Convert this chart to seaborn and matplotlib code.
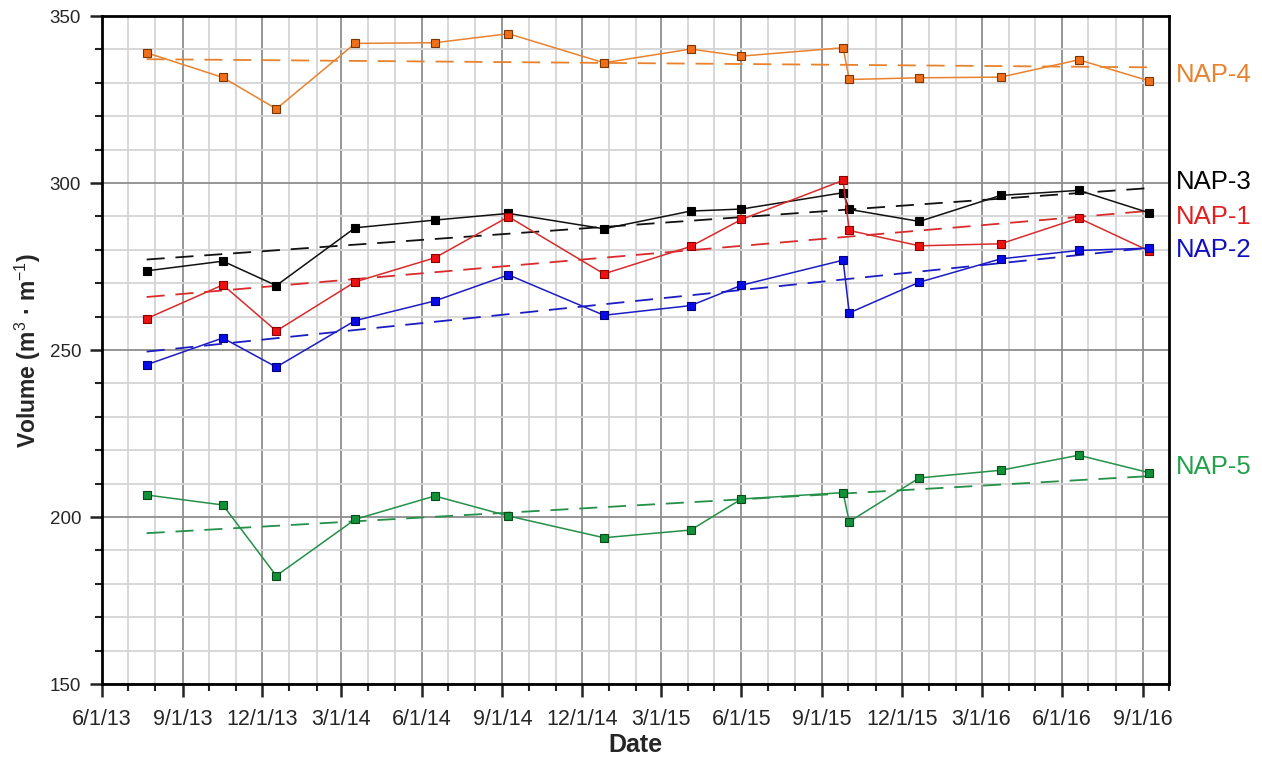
import datetime as dt
import numpy as np
import pandas as pd
import matplotlib
matplotlib.use("Agg")
import matplotlib.pyplot as plt
import matplotlib.dates as mdates
from matplotlib.ticker import MultipleLocator, FuncFormatter
import seaborn as sns

# Survey dates
dates = ["2013-07-22", "2013-10-17", "2013-12-17", "2014-03-17", "2014-06-16",
         "2014-09-08", "2014-12-26", "2015-04-04", "2015-06-01", "2015-09-25",
         "2015-10-02", "2015-12-21", "2016-03-23", "2016-06-20", "2016-09-08"]

# Unit volume per profile (m3/m)
nap1 = [259.4, 269.5, 255.7, 270.4, 277.6, 289.9, 272.8, 281.0, 289.1, 300.8,
        285.8, 281.2, 281.8, 289.5, 279.7]
nap2 = [245.6, 253.6, 244.9, 258.8, 264.7, 272.5, 260.4, 263.3, 269.4, 276.9,
        261.1, 270.3, 277.3, 279.8, 280.5]
nap3 = [273.7, 276.6, 269.3, 286.6, 288.9, 290.9, 286.3, 291.6, 292.2, 297.1,
        292.1, 288.5, 296.3, 297.8, 291.1]
nap4 = [339.0, 331.6, 322.2, 341.8, 342.0, 344.7, 336.0, 340.1, 338.0, 340.5,
        331.0, 331.5, 331.7, 336.9, 330.6]
nap5 = [206.6, 203.6, 182.4, 199.3, 206.3, 200.3, 193.8, 196.1, 205.4, 207.3,
        198.6, 211.7, 214.0, 218.5, 213.3]

sites = ["NAP-4", "NAP-3", "NAP-1", "NAP-2", "NAP-5"]
values = {"NAP-1": nap1, "NAP-2": nap2, "NAP-3": nap3, "NAP-4": nap4, "NAP-5": nap5}

line_colors = {"NAP-4": "#E8822E", "NAP-3": "#111111", "NAP-1": "#D92B2B",
               "NAP-2": "#1C1CC4", "NAP-5": "#249048"}
face_colors = {"NAP-4": "#F0701A", "NAP-3": "#000000", "NAP-1": "#EE1111",
               "NAP-2": "#0A0AE8", "NAP-5": "#12913A"}
edge_colors = {"NAP-4": "#7A3500", "NAP-3": "#000000", "NAP-1": "#8A0000",
               "NAP-2": "#00007A", "NAP-5": "#0A4A1A"}
label_colors = {"NAP-4": "#E8822E", "NAP-3": "#000000", "NAP-1": "#E02020",
                "NAP-2": "#1010C0", "NAP-5": "#22A04A"}
label_y = {"NAP-4": 332.3, "NAP-3": 300.3, "NAP-1": 289.8, "NAP-2": 279.9, "NAP-5": 215.0}

t = pd.to_datetime(dates)
xnum = mdates.date2num(t.to_pydatetime())
df = pd.concat([pd.DataFrame({"x": xnum, "volume": values[s], "site": s}) for s in sites],
               ignore_index=True)

sns.set_style("white")
plt.rcParams["font.family"] = ["Liberation Sans", "DejaVu Sans"]
plt.rcParams["mathtext.fontset"] = "custom"
plt.rcParams["mathtext.rm"] = "Liberation Sans"
plt.rcParams["mathtext.it"] = "Liberation Sans:italic"
plt.rcParams["mathtext.bf"] = "Liberation Sans:bold"

fig = plt.figure(figsize=(12.62, 7.59), dpi=100)
ax = fig.add_axes([0.0808, 0.0988, 0.8455, 0.8801])

for s in sites:
    sub = df[df.site == s]
    # least-squares trend over the survey period
    sns.regplot(data=sub, x="x", y="volume", ax=ax, scatter=False, ci=None,
                truncate=True, color=line_colors[s],
                line_kws=dict(ls=(0, (10, 6)), lw=1.3, zorder=3))
    sns.lineplot(data=sub, x="x", y="volume", ax=ax, color=line_colors[s], lw=1.1,
                 marker="s", markersize=6, markerfacecolor=face_colors[s],
                 markeredgecolor=edge_colors[s], markeredgewidth=0.8, zorder=4,
                 estimator=None, sort=False)

x0 = mdates.date2num(dt.datetime(2013, 6, 1))
x1 = mdates.date2num(dt.datetime(2016, 10, 1))
ax.set_xlim(x0, x1)
ax.set_ylim(150, 350)

ax.xaxis.set_major_locator(mdates.MonthLocator(bymonth=[3, 6, 9, 12]))
ax.xaxis.set_minor_locator(mdates.MonthLocator())
ax.xaxis.set_major_formatter(FuncFormatter(
    lambda v, p: (lambda d: f"{d.month}/{d.day}/{d.year % 100}")(mdates.num2date(v))))
ax.yaxis.set_major_locator(MultipleLocator(50))
ax.yaxis.set_minor_locator(MultipleLocator(10))

ax.grid(which="minor", color="#D4D4D4", lw=1.3, zorder=0)
ax.grid(which="major", color="#8E8E8E", lw=1.3, zorder=0)
ax.set_axisbelow(True)

for sp in ax.spines.values():
    sp.set_color("black")
    sp.set_linewidth(2.0)

ax.tick_params(which="major", direction="out", length=9, width=1.8, color="#222222",
               pad=6, left=True, bottom=True)
ax.tick_params(which="minor", direction="out", length=5, width=1.5, color="#222222",
               left=True, bottom=True)
ax.tick_params(axis="x", which="major", labelsize=15.5, pad=9)
ax.tick_params(axis="y", which="major", labelsize=13.5)

ax.set_xlabel("Date", fontsize=18, fontweight="bold", labelpad=2)
ax.set_ylabel(r"Volume (m$^{3}$ · m$^{-1}$)", fontsize=16.5, fontweight="bold", labelpad=5)

for s in sites:
    ax.text(1.006, label_y[s], s, transform=ax.get_yaxis_transform(), fontsize=18.5,
            color=label_colors[s], va="center", ha="left", clip_on=False)

fig.savefig("out.png", dpi=100)
